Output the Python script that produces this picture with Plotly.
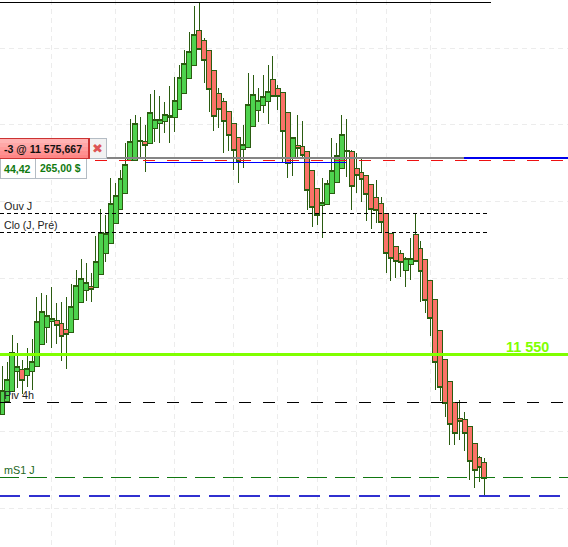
import plotly.graph_objects as go

# One entry per bar (points)
bar_high = [11548.55,11549.07,11552.59,11551.55,11549.33,11550.90,11552.07,11557.55,11558.07,11557.81,
11558.85,11556.76,11556.93,11557.51,11559.20,11561.07,11562.46,11561.94,11560.68,11565.50,
11568.98,11568.24,11573.02,11572.45,11574.11,11577.63,11580.72,11581.28,11581.02,11579.97,
11584.01,11584.54,11583.75,11583.01,11585.06,11586.27,11587.80,11589.75,11592.14,11595.49,
11595.92,11591.28,11589.66,11587.05,11584.76,11583.49,11581.71,11580.19,11578.37,11579.97,
11586.71,11586.49,11584.76,11586.49,11587.80,11588.97,11585.19,11584.24,11581.63,11578.37,
11581.28,11580.49,11576.54,11574.07,11571.72,11573.02,11572.80,11578.24,11577.63,11581.28,
11580.75,11576.71,11576.28,11575.84,11573.41,11572.24,11572.80,11570.55,11568.46,11565.85,
11564.16,11563.67,11562.80,11565.20,11568.46,11564.89,11562.46,11559.72,11557.25,11553.21,
11549.42,11546.50,11543.77,11544.12,11542.51,11540.64,11538.47,11536.82,11536.52,11534.95]

bar_body_top = [11545.38,11546.77,11550.29,11548.51,11548.07,11548.25,11549.16,11554.33,11555.63,11555.11,
11554.77,11554.46,11554.12,11553.34,11556.33,11559.02,11559.99,11559.46,11558.89,11562.20,
11565.93,11565.85,11569.76,11570.72,11573.02,11574.85,11577.85,11580.19,11577.98,11577.80,
11581.63,11580.72,11580.72,11581.37,11581.15,11583.19,11586.19,11588.02,11589.53,11591.80,
11592.27,11590.96,11589.66,11587.05,11584.11,11583.01,11581.71,11580.19,11578.37,11577.46,
11582.67,11583.98,11583.19,11583.66,11584.37,11585.93,11584.76,11584.24,11581.63,11578.37,
11577.33,11577.14,11576.54,11574.07,11571.72,11569.89,11572.37,11574.07,11576.02,11578.76,
11576.67,11576.54,11574.33,11573.81,11573.41,11572.24,11570.55,11569.76,11568.46,11565.85,
11564.16,11563.24,11562.54,11562.54,11565.72,11563.84,11562.46,11559.72,11557.25,11553.21,
11549.42,11546.50,11543.77,11541.73,11541.55,11540.64,11538.47,11536.65,11536.00,11534.95]

bar_body_bottom = [11542.25,11543.86,11545.25,11547.81,11546.69,11547.34,11547.81,11548.46,11551.38,11553.60,
11554.33,11553.77,11552.37,11552.68,11552.89,11554.64,11556.80,11558.37,11558.55,11558.81,
11560.45,11563.24,11564.55,11567.16,11568.98,11570.98,11575.32,11575.32,11577.80,11577.27,
11577.59,11579.54,11580.19,11580.40,11580.98,11580.98,11582.02,11584.11,11586.06,11587.76,
11589.84,11588.36,11584.54,11581.05,11581.93,11580.45,11578.63,11576.67,11575.15,11576.80,
11577.07,11579.75,11581.84,11582.54,11583.06,11583.71,11583.71,11579.15,11574.98,11575.63,
11576.93,11576.02,11571.46,11569.24,11568.20,11569.50,11569.63,11571.07,11572.50,11574.33,
11576.49,11571.93,11573.36,11572.89,11570.94,11568.98,11568.85,11567.29,11563.24,11562.59,
11562.20,11561.98,11561.03,11561.81,11562.20,11560.90,11557.12,11554.77,11549.03,11545.75,
11543.69,11540.95,11539.78,11541.29,11539.78,11536.13,11534.95,11535.29,11533.91,11532.08]

bar_low = [11542.25,11543.86,11545.25,11545.72,11544.94,11545.81,11545.46,11548.46,11551.38,11551.55,
11550.90,11551.42,11549.24,11548.16,11552.89,11554.64,11556.80,11557.06,11556.93,11558.81,
11560.45,11562.15,11564.55,11567.16,11568.98,11570.98,11575.32,11575.32,11575.67,11573.88,
11577.59,11577.80,11577.63,11578.93,11577.66,11579.10,11582.02,11584.11,11586.06,11587.76,
11589.84,11585.41,11581.71,11579.23,11579.62,11576.36,11576.62,11574.11,11572.45,11574.33,
11577.07,11579.75,11580.40,11581.50,11580.10,11583.71,11581.93,11574.98,11573.02,11573.32,
11575.63,11575.50,11568.89,11566.71,11566.93,11565.20,11569.63,11571.07,11572.50,11574.33,
11573.23,11568.89,11571.07,11569.97,11567.46,11566.41,11567.20,11566.06,11560.72,11559.63,
11559.99,11560.19,11558.89,11559.76,11562.20,11556.93,11555.50,11552.46,11545.42,11544.03,
11541.94,11538.25,11538.25,11538.90,11537.47,11533.69,11532.68,11533.47,11531.73,11530.52]

bar_is_up = "GGGGRGGGGGGRRRGGGGRGGGGGGGGGGRGGGGGGGGGGRRRRRRRRRGGGGGGRRRRGRRRRRGGGGGRRRRRRRRRRRRGGRRRRRRRRRRRRRRR"

# Price levels
level_top = 11595.97
level_order = 11575.667
level_red = 11575.38
level_blue = 11575.08
level_ouv = 11568.41
level_clo = 11565.98
level_round = 11550
level_piv = 11543.82
level_ms1 = 11534.04
level_blue_dash = 11531.60

bar_index = list(range(len(bar_high)))
grid_prices = [11590, 11580, 11570, 11560, 11550, 11540, 11530]
grid_bars = [10, 23, 35, 47, 56, 64, 72, 78, 87]

W, H = 568, 547
opens = [b if u == "G" else t for t, b, u in zip(bar_body_top, bar_body_bottom, bar_is_up)]
closes = [t if u == "G" else b for t, b, u in zip(bar_body_top, bar_body_bottom, bar_is_up)]

WICK = "#2a5c10"
fig = go.Figure(go.Candlestick(
    x=bar_index, open=opens, high=bar_high, low=bar_low, close=closes,
    increasing=dict(fillcolor="#4ed24e", line=dict(color=WICK, width=1)),
    decreasing=dict(fillcolor="#fb7268", line=dict(color=WICK, width=1)),
    whiskerwidth=0, showlegend=False, hoverinfo="skip"))


def px_x(v):
    return v / W


def px_y(v):
    return 1 - v / H


shapes = []


def level(price, x0, x1, color, width, dash="solid"):
    shapes.append(dict(type="line", xref="paper", yref="y", x0=px_x(x0), x1=px_x(x1), y0=price, y1=price,
                       line=dict(color=color, width=width, dash=dash), layer="above"))


level(level_top, 0, 491, "#000000", 1)
level(level_red, -1, 568, "#ee1111", 1, "12px,12px")
level(level_order, 0, 466, "#858585", 1.4)
level(level_blue, 146, 346, "#0000ff", 1.3)
level(level_order, 464, 568, "#0000ee", 2.5)
level(level_ouv, 0, 489, "#000000", 1, "4px,3px")
level(level_clo, 0, 489, "#000000", 1, "4px,3px")
level(level_round, 0, 568, "#80ff00", 3)
level(level_piv, -1, 568, "#000000", 1, "12px,12px")
level(level_ms1, -1, 568, "#117711", 1, "20px,8px")
level(level_blue_dash, -1, 568, "#3030d0", 2.4, "21px,9px")


def rect(x0, y0, x1, y1, fill, line=None, lw=1):
    shapes.append(dict(type="rect", xref="paper", yref="paper", x0=px_x(x0), x1=px_x(x1), y0=px_y(y0), y1=px_y(y1),
                       fillcolor=fill, line=dict(color=line or fill, width=lw if line else 0), layer="above"))


# order box
rect(0, 158.7, 86.5, 178.3, "#ffffff", "#b4bcc4", 1)
rect(35, 158.7, 35.5, 178.3, "#b4bcc4")
rect(89, 138.5, 106.5, 158.7, "#f2f2f2", "#b4bcc4", 1)
for k, c in enumerate(["#ffb4b4", "#ffa8a8", "#ff9c9c", "#ff9090", "#ff8686"]):
    rect(0, 138.5 + 4 * k, 89, 142.5 + 4 * k, c)
rect(-1, 138.5, 89, 158.7, "rgba(0,0,0,0)", "#cc3333", 1.2)


def label(text, x, y, size, color="#222222", bold=False, family="Liberation Sans"):
    return dict(text=f"<b>{text}</b>" if bold else text, xref="paper", yref="paper", x=px_x(x), y=px_y(y),
                xanchor="left", yanchor="middle", showarrow=False, borderpad=0, align="left",
                font=dict(family=family, size=size, color=color))


annotations = [
    label("Ouv J", 3, 206, 10.8),
    label("Clo (J, Pré)", 3, 225, 10.6),
    label("Piv 4h", 3, 395, 10.8),
    label("mS1 J", 3, 470, 10.8, "#226622"),
    label("11 550", 505, 347, 14.4, "#80ff00", True),
    label("-3 @ 11 575,667", 3, 149, 10.6, "#111111", True),
    label("44,42", 3, 169, 10.6, "#107a10", True),
    label("265,00 $", 39, 169, 10.4, "#107a10", True),
    label("✖", 91, 148.5, 13, "#dd5555", False, "DejaVu Sans"),
]

axis_grid = dict(showgrid=True, gridcolor="#ececec", griddash="5px,4px", gridwidth=1.4,
                 showticklabels=False, ticks="", zeroline=False, showline=False, fixedrange=True)

fig.update_layout(
    width=W, height=H, margin=dict(l=0, r=0, t=0, b=0),
    paper_bgcolor="#ffffff", plot_bgcolor="#ffffff",
    boxgap=0.0, boxgroupgap=0, showlegend=False, shapes=shapes, annotations=annotations,
    xaxis=dict(range=[-0.508, 115.0], tickmode="array", tickvals=grid_bars,
               rangeslider=dict(visible=False), **axis_grid),
    yaxis=dict(range=[11524.95, 11596.27], tickmode="array", tickvals=grid_prices, **axis_grid),
)

crisp = ("document.body.style.margin='0';document.body.style.overflow='hidden';"
         "document.querySelectorAll('.boxlayer path, .shapelayer path').forEach("
         "function(p){p.style.shapeRendering='crispEdges';});")
fig.write_html("out.html", config=dict(displayModeBar=False), post_script=crisp)
